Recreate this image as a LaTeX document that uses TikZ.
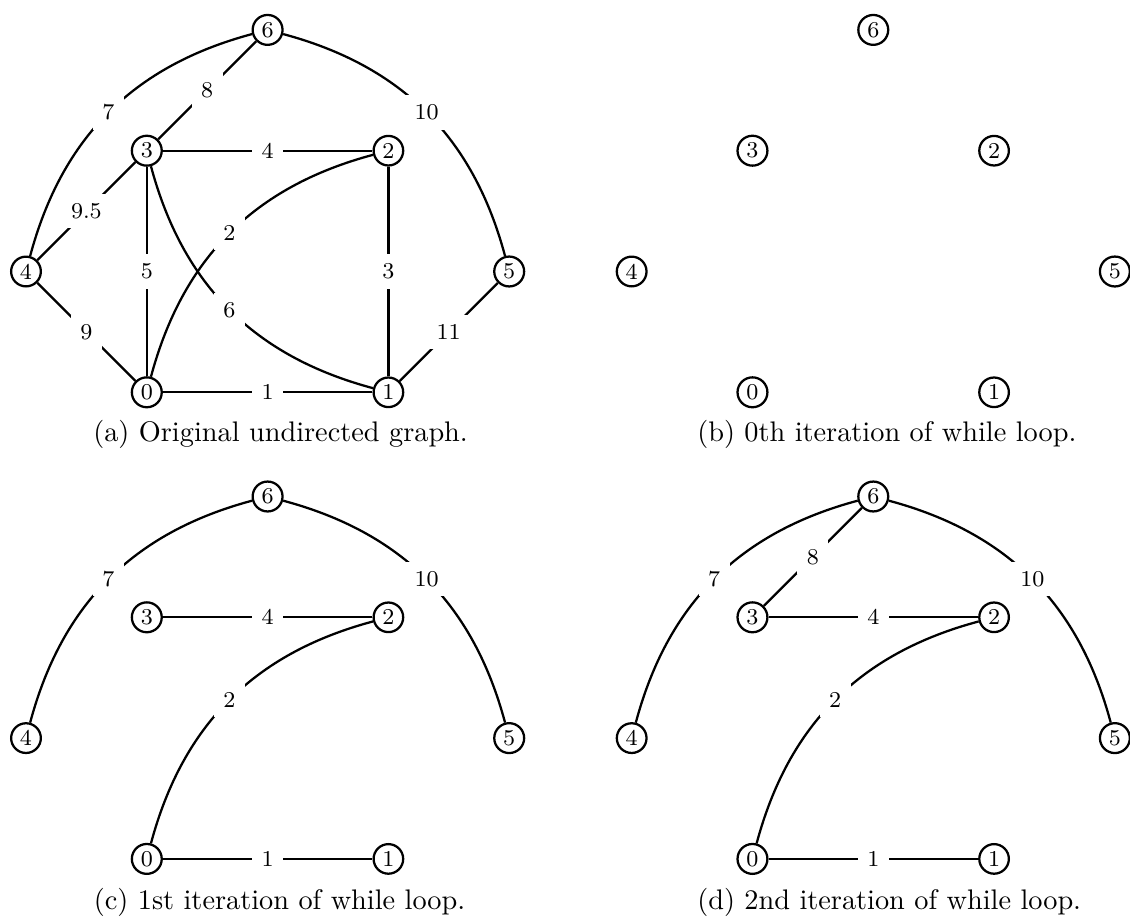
\documentclass[tikz,border=0pt]{standalone}
\usepackage{tikz}
\usetikzlibrary{positioning}
\tikzset{
  vertex/.style={draw, circle, thick, inner sep=1.3pt, font=\footnotesize},
  edge/.style={thick},
  weight/.style={fill=white, font=\footnotesize},
  subcap/.style={anchor=base west, inner sep=0pt}
}
\begin{document}
\begin{tikzpicture}[x=1.5cm, y=1.5cm]
  \useasboundingbox (0,0) rectangle (9.3543,7.6159);
  \foreach \g/\gx/\gy in {a/0.2152/4.3684, b/5.2290/4.3684, c/0.2152/0.5058, d/5.2290/0.5058}{
    \begin{scope}[shift={(\gx,\gy)}]
      \node[vertex] (\g0) at (1,0) {0};
      \node[vertex] (\g1) at (3,0) {1};
      \node[vertex] (\g2) at (3,2) {2};
      \node[vertex] (\g3) at (1,2) {3};
      \node[vertex] (\g4) at (0,1) {4};
      \node[vertex] (\g5) at (4,1) {5};
      \node[vertex] (\g6) at (2,3) {6};
    \end{scope}
  }

  \draw[edge] (a0) -- node[weight]{1} (a1);
  \draw[edge] (a0) to[bend left=30] node[weight]{2} (a2);
  \draw[edge] (a2) -- node[weight]{3} (a1);
  \draw[edge] (a3) -- node[weight]{4} (a2);
  \draw[edge] (a3) -- node[weight]{5} (a0);
  \draw[edge] (a1) to[bend left=30] node[weight]{6} (a3);
  \draw[edge] (a4) to[bend left=30] node[weight]{7} (a6);
  \draw[edge] (a6) -- node[weight]{8} (a3);
  \draw[edge] (a4) -- node[weight]{9} (a0);
  \draw[edge] (a4) -- node[weight]{9.5} (a3);
  \draw[edge] (a6) to[bend left=30] node[weight]{10} (a5);
  \draw[edge] (a5) -- node[weight]{11} (a1);

  \draw[edge] (c0) -- node[weight]{1} (c1);
  \draw[edge] (c0) to[bend left=30] node[weight]{2} (c2);
  \draw[edge] (c3) -- node[weight]{4} (c2);
  \draw[edge] (c4) to[bend left=30] node[weight]{7} (c6);
  \draw[edge] (c6) to[bend left=30] node[weight]{10} (c5);

  \draw[edge] (d0) -- node[weight]{1} (d1);
  \draw[edge] (d0) to[bend left=30] node[weight]{2} (d2);
  \draw[edge] (d3) -- node[weight]{4} (d2);
  \draw[edge] (d4) to[bend left=30] node[weight]{7} (d6);
  \draw[edge] (d6) -- node[weight]{8} (d3);
  \draw[edge] (d6) to[bend left=30] node[weight]{10} (d5);

  \node[subcap] (capa) at (0.7674,3.9627) {(a) Original undirected graph.};
  \node[subcap] (capb) at (5.7674,3.9627) {(b) 0th iteration of while loop.};
  \node[subcap] (capc) at (0.7724,0.0869) {(c) 1st iteration of while loop.};
  \node[subcap] (capd) at (5.7674,0.0869) {(d) 2nd iteration of while loop.};
\end{tikzpicture}
\end{document}
